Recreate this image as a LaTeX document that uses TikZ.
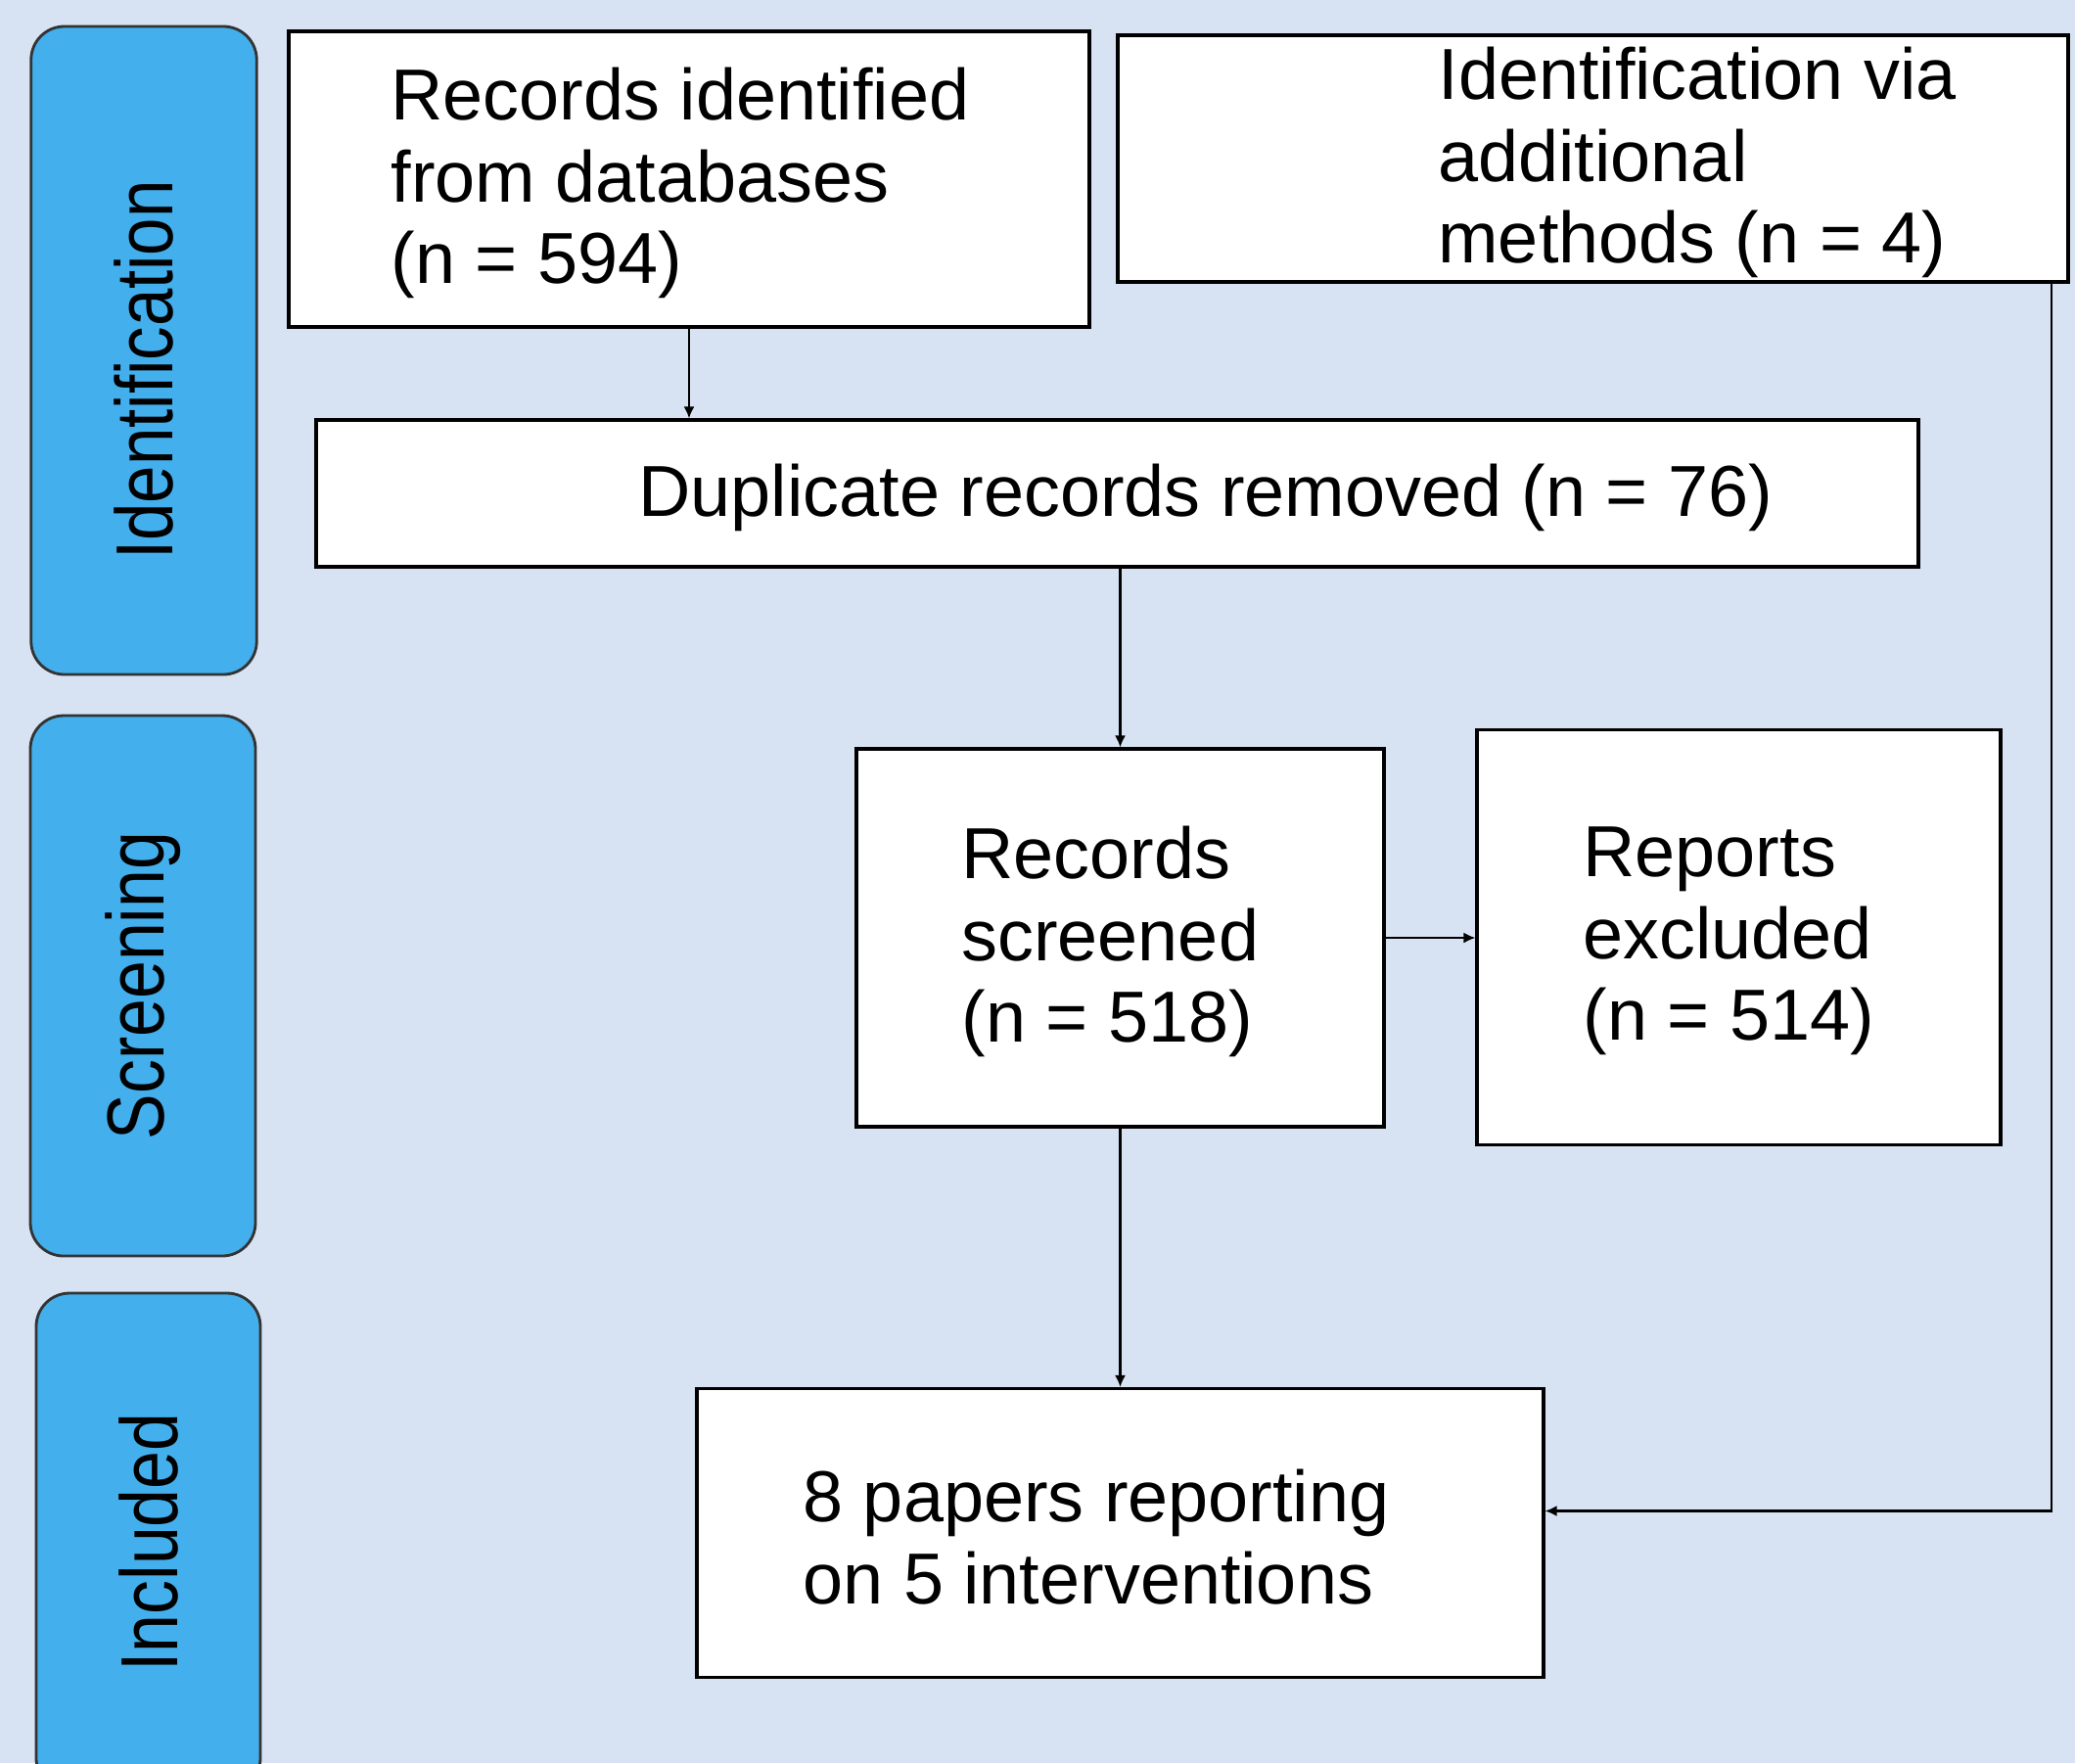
\documentclass[tikz,border=0pt]{standalone}
\usepackage{fontspec}
\setmainfont{Liberation Sans}
\usepackage{graphicx}
\usetikzlibrary{positioning,arrows.meta}
\definecolor{paneback}{RGB}{215,227,243}
\definecolor{laneblue}{RGB}{67,175,237}

\begin{document}
\begin{tikzpicture}[%
    line width=0.6pt, > = {Latex[length=1.2mm, width=1.1mm]},
    box/.style={draw, rectangle, fill=white, line width=0.9pt, inner sep=0pt},
    lane/.style={draw=black!80, fill=laneblue, rectangle, rounded corners=0.34cm, line width=0.8pt,
        rotate=90, inner sep=0pt, font=\fontsize{23.5}{28}\selectfont},
    txt/.style={inner sep=0pt, align=left, yshift=-0.4mm, font=\fontsize{21}{23.8}\selectfont}]
    \clip (0,0) rectangle (21.2,-18.01);
    \fill[paneback] (0,0) rectangle (21.2,-18.01);

    % phases
    \node[lane, minimum width=6.62cm, minimum height=2.305cm] (idl) at (1.47,-3.58) {\scalebox{0.835}[1]{Identification}\kern0.4cm};
    \node[lane, minimum width=5.52cm, minimum height=2.30cm] (scl) at (1.46,-10.07) {\scalebox{0.845}[1]{Screening}};
    \node[lane, minimum width=5.09cm, minimum height=2.29cm] (inl) at (1.515,-15.755) {\scalebox{0.845}[1]{Included}};

    % boxes
    \node[box, minimum width=8.18cm, minimum height=3.02cm] (db) at (7.04,-1.83) {};
    \node[txt, right=1.05cm of db.west] (dbtxt) {Records identified\\from databases\\(n = 594)};
    \node[box, minimum width=9.71cm, minimum height=2.52cm] (add) at (16.275,-1.62) {};
    \node[txt, right=3.28cm of add.west] (addtxt) {Identification via\\additional\\methods (n = 4)};
    \node[box, minimum width=16.37cm, minimum height=1.50cm] (dup) at (11.415,-5.04) {};
    \node[txt, right=3.30cm of dup.west] (duptxt) {Duplicate records removed (n = 76)};
    \node[box, minimum width=5.39cm, minimum height=3.86cm] (scr) at (11.445,-9.58) {};
    \node[txt, right=1.08cm of scr.west] (scrtxt) {Records\\screened\\(n = 518)};
    \node[box, minimum width=5.35cm, minimum height=4.24cm] (exc) at (17.765,-9.575) {};
    \node[txt, right=1.09cm of exc.west] (exctxt) {Reports\\excluded\\(n = 514)};
    \node[box, minimum width=8.65cm, minimum height=2.95cm] (fin) at (11.445,-15.66) {};
    \node[txt, right=1.09cm of fin.west] (fintxt) {8 papers reporting\\on 5 interventions};

    % arrows
    \draw[->] (db.south) -- (db.south |- dup.north);
    \draw[->] (scr.north |- dup.south) -- (scr.north);
    \draw[->] (scr.east) -- (scr.east -| exc.west);
    \draw[->] (scr.south) -- (fin.north);
    \draw[->] ([xshift=-1.9mm]add.south east) |- ([yshift=2.25mm]fin.east);
\end{tikzpicture}
\end{document}
